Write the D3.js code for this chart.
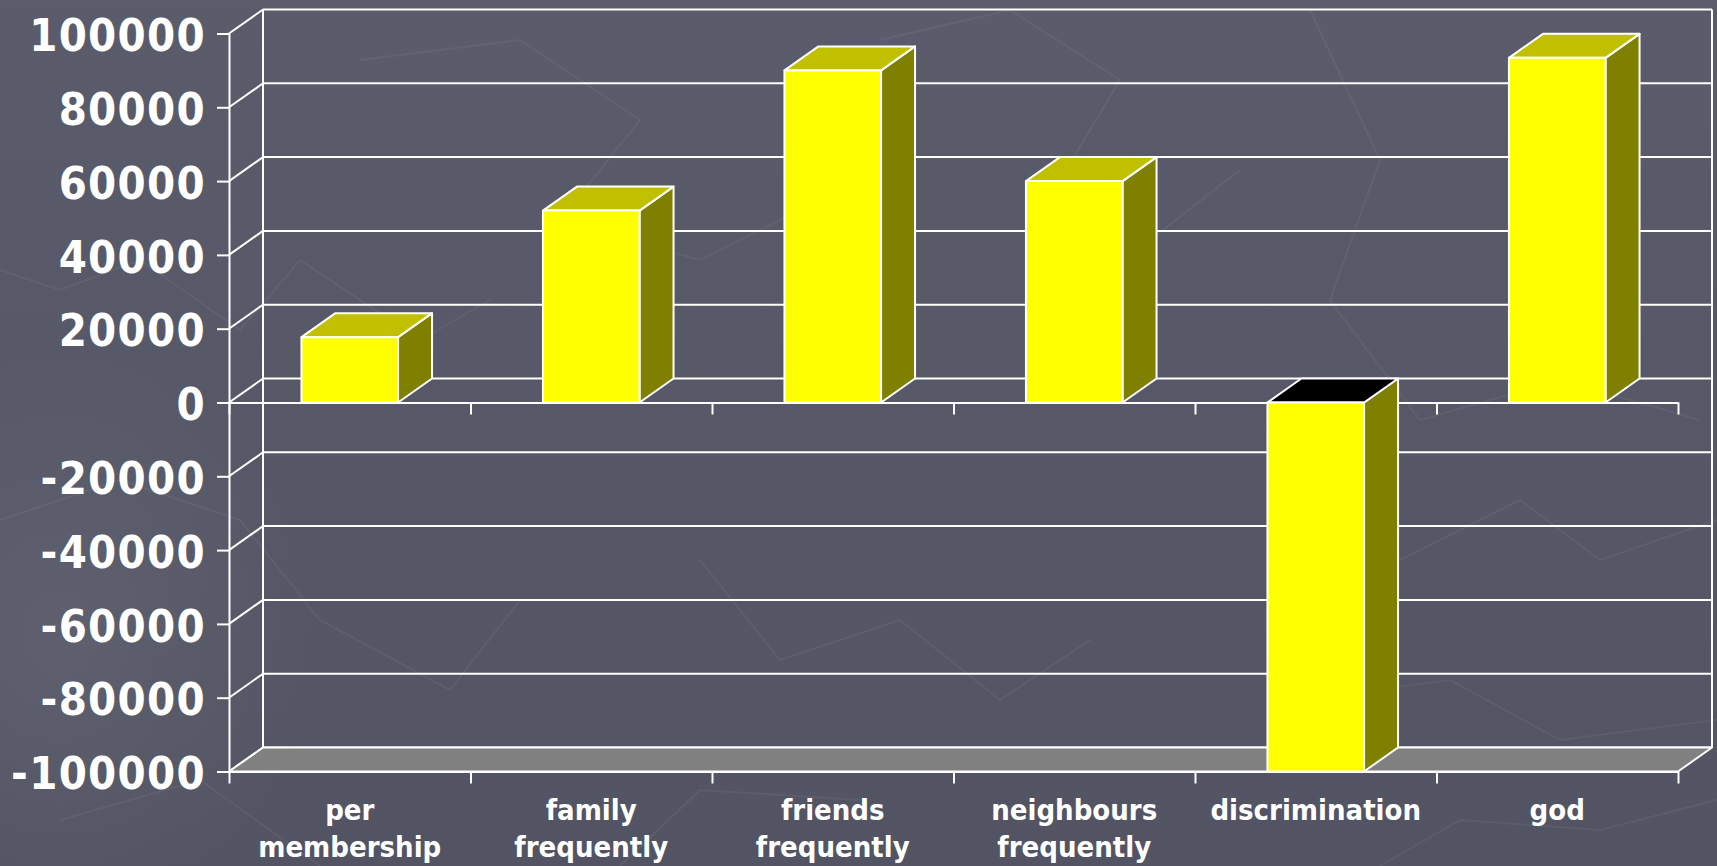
<!DOCTYPE html>
<html>
<head>
<meta charset="utf-8">
<script src="https://cdn.jsdelivr.net/npm/d3@7"></script>
<style>
  html, body { margin: 0; padding: 0; background: #565867; }
  svg { display: block; }
  text { font-family: "DejaVu Sans Condensed", "DejaVu Sans", sans-serif; font-stretch: condensed; font-weight: bold; fill: #ffffff; }
</style>
</head>
<body>
<svg id="chart" width="1717" height="866"></svg>
<script>
// Categories and their values
const categories = ["per membership", "family frequently", "friends frequently", "neighbours frequently", "discrimination", "god"];
const labelLines = [["per", "membership"], ["family", "frequently"], ["friends", "frequently"], ["neighbours", "frequently"], ["discrimination"], ["god"]];
const values = [17700, 52000, 90000, 60000, -100000, 93400];
const yTicks = [-100000, -80000, -60000, -40000, -20000, 0, 20000, 40000, 60000, 80000, 100000];

const W = 1717, H = 866;
const plot = { left: 229, right: 1678, top: 33.5, bottom: 771.5 };
const depth = { dx: 34, dy: -24 };

const svg = d3.select("#chart");

// Slide background
const defs = svg.append("defs");
const bg = defs.append("linearGradient").attr("id", "bg").attr("x1", 0).attr("y1", 0).attr("x2", 0).attr("y2", 1);
bg.append("stop").attr("offset", 0).attr("stop-color", "#5a5c6b");
bg.append("stop").attr("offset", 1).attr("stop-color", "#525463");
const glow = defs.append("radialGradient").attr("id", "glow").attr("cx", 0.5).attr("cy", 0.5).attr("r", 0.5);
glow.append("stop").attr("offset", 0).attr("stop-color", "#ffffff").attr("stop-opacity", 0.06);
glow.append("stop").attr("offset", 1).attr("stop-color", "#ffffff").attr("stop-opacity", 0);
svg.append("rect").attr("width", W).attr("height", H).attr("fill", "url(#bg)");
svg.append("ellipse").attr("cx", 60).attr("cy", 640).attr("rx", 260).attr("ry", 300).attr("fill", "url(#glow)");

// Faint map-line texture of the slide template
const deco = svg.append("g").attr("fill", "none").attr("stroke", "#ffffff").attr("stroke-opacity", 0.05).attr("stroke-width", 2);
[
  [[0, 270], [60, 290], [140, 260], [240, 330], [300, 260], [420, 340], [490, 300]],
  [[360, 60], [520, 40], [640, 120], [560, 220], [700, 260], [820, 200]],
  [[880, 40], [1010, 10], [1120, 80], [1060, 180], [1150, 240], [1240, 170]],
  [[1310, 10], [1380, 160], [1330, 300], [1420, 420], [1560, 380], [1700, 420]],
  [[0, 520], [120, 480], [240, 520], [320, 620], [450, 690], [520, 600]],
  [[700, 560], [780, 660], [900, 620], [1000, 700], [1090, 640]],
  [[1400, 560], [1520, 500], [1600, 560], [1717, 520]],
  [[1300, 700], [1450, 680], [1560, 740], [1717, 720]],
  [[60, 820], [200, 780], [320, 866]],
  [[620, 866], [700, 790], [860, 800]],
  [[1380, 866], [1460, 820], [1600, 830], [1717, 800]]
].forEach(pts => deco.append("polyline").attr("points", pts.map(p => p.join(",")).join(" ")));

// Scales
const y = d3.scaleLinear().domain([-100000, 100000]).range([plot.bottom, plot.top]);
const xEdge = d3.scaleLinear().domain([0, categories.length]).range([plot.left, plot.right]);
const xBar = d3.scaleBand().domain(categories).range([plot.left, plot.right]).paddingInner(0.6).paddingOuter(0.3);

const white = "#ffffff";
const sw = 2;

// Back wall gridlines and edges
const back = svg.append("g").attr("stroke", white).attr("stroke-width", sw).attr("fill", "none");
back.selectAll("line.grid").data(yTicks).join("line").attr("class", "grid")
  .attr("x1", plot.left + depth.dx).attr("x2", plot.right + depth.dx)
  .attr("y1", d => y(d) + depth.dy).attr("y2", d => y(d) + depth.dy);
back.append("line").attr("x1", plot.left + depth.dx).attr("x2", plot.left + depth.dx)
  .attr("y1", y(100000) + depth.dy).attr("y2", y(-100000) + depth.dy);
back.append("line").attr("x1", plot.right + depth.dx).attr("x2", plot.right + depth.dx)
  .attr("y1", y(100000) + depth.dy).attr("y2", y(-100000) + depth.dy);

// Side wall: diagonals joining each front tick to the back wall
back.selectAll("line.side").data(yTicks).join("line").attr("class", "side")
  .attr("x1", plot.left).attr("x2", plot.left + depth.dx)
  .attr("y1", d => y(d)).attr("y2", d => y(d) + depth.dy);

// Floor
const yf = y(-100000);
svg.append("polygon")
  .attr("points", [[plot.left, yf], [plot.right, yf], [plot.right + depth.dx, yf + depth.dy], [plot.left + depth.dx, yf + depth.dy]].map(p => p.join(",")).join(" "))
  .attr("fill", "#808080").attr("stroke", white).attr("stroke-width", sw).attr("stroke-linejoin", "round");

// Value axis
const yAxis = svg.append("g").attr("transform", `translate(${plot.left},0)`)
  .call(d3.axisLeft(y).tickValues(yTicks).tickSize(12).tickSizeOuter(0).tickPadding(11).tickFormat(d => String(d)));
yAxis.attr("font-family", null).attr("font-size", null);
yAxis.selectAll("path, line").attr("stroke", white).attr("stroke-width", sw);
yAxis.selectAll("text").attr("fill", white).attr("font-size", 45)
  .attr("letter-spacing", 1.3).attr("dy", "0.38em");

// Category axis lines at zero and along the floor
[0, -100000].forEach(v => {
  const g = svg.append("g").attr("transform", `translate(0,${y(v)})`)
    .call(d3.axisBottom(xEdge).tickValues(d3.range(categories.length + 1)).tickSize(12).tickSizeOuter(0).tickFormat(""));
  g.selectAll("path, line").attr("stroke", white).attr("stroke-width", sw);
});

// 3-D bars
const bars = svg.append("g").attr("stroke", white).attr("stroke-width", sw).attr("stroke-linejoin", "round");
const bw = xBar.bandwidth();
const poly = pts => pts.map(p => p.join(",")).join(" ");
categories.forEach((c, i) => {
  const v = values[i];
  const x0 = xBar(c), x1 = x0 + bw;
  const yTop = y(Math.max(v, 0)), yBot = y(Math.min(v, 0));
  const g = bars.append("g");
  g.append("polygon").attr("fill", "#808000")
    .attr("points", poly([[x1, yTop], [x1 + depth.dx, yTop + depth.dy], [x1 + depth.dx, yBot + depth.dy], [x1, yBot]]));
  g.append("polygon").attr("fill", v < 0 ? "#000000" : "#c0c000")
    .attr("points", poly([[x0, yTop], [x1, yTop], [x1 + depth.dx, yTop + depth.dy], [x0 + depth.dx, yTop + depth.dy]]));
  g.append("rect").attr("x", x0).attr("y", yTop).attr("width", bw).attr("height", yBot - yTop).attr("fill", "#ffff00");
});

// Category labels
const lab = svg.append("g").attr("text-anchor", "middle").attr("font-size", 29);
categories.forEach((c, i) => {
  const cx = xBar(c) + bw / 2;
  const t = lab.append("text").attr("x", cx).attr("y", 820);
  labelLines[i].forEach((ln, k) => t.append("tspan").attr("x", cx).attr("dy", k === 0 ? 0 : 37).text(ln));
});
</script>
</body>
</html>
